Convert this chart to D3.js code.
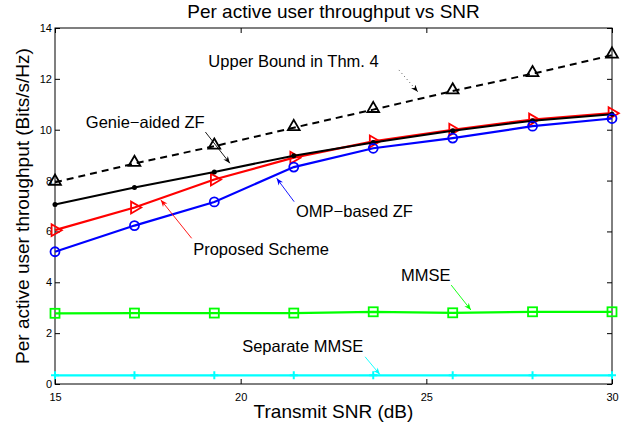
<!DOCTYPE html>
<html>
<head>
<meta charset="utf-8">
<script src="https://cdn.jsdelivr.net/npm/d3@7"></script>
<style>
  body { margin: 0; background: #fff; }
  svg text { font-family: "Liberation Sans", Arial, sans-serif; }
</style>
</head>
<body>
<div id="chart-container"></div>
<script>
// SNR points (dB)
const snr = [15, 17.14, 19.29, 21.43, 23.57, 25.71, 27.86, 30];

const upperBound  = [7.93, 8.67, 9.35, 10.08, 10.79, 11.52, 12.2, 12.93];
const genieZF     = [7.06, 7.73, 8.34, 8.98, 9.5, 9.96, 10.35, 10.61];
const proposed    = [6.05, 6.94, 8.04, 8.9, 9.54, 10.0, 10.4, 10.65];
const ompZF       = [5.2, 6.23, 7.16, 8.53, 9.27, 9.67, 10.14, 10.44];
const mmse        = [2.78, 2.79, 2.79, 2.79, 2.84, 2.8, 2.84, 2.84];
const sepMmse     = [0.34, 0.34, 0.34, 0.34, 0.34, 0.34, 0.34, 0.34];

const xTicks = [15, 20, 25, 30];
const yTicks = [0, 2, 4, 6, 8, 10, 12, 14];

const W = 636, H = 426;
const margin = { top: 28, right: 24, bottom: 42, left: 55 };
const width = W - margin.left - margin.right;
const height = H - margin.top - margin.bottom;

const svg = d3.select("#chart-container")
  .append("svg")
    .attr("width", W)
    .attr("height", H);

const g = svg.append("g")
  .attr("transform", `translate(${margin.left},${margin.top})`);

const x = d3.scaleLinear().domain([15, 30]).range([0, width]);
const y = d3.scaleLinear().domain([0, 14]).range([height, 0]);

// arrow heads
const defs = svg.append("defs");
function makeHead(id, color) {
  defs.append("marker")
    .attr("id", id)
    .attr("viewBox", "0 0 10 10")
    .attr("refX", 10).attr("refY", 5)
    .attr("markerWidth", 7).attr("markerHeight", 7)
    .attr("markerUnits", "userSpaceOnUse")
    .attr("orient", "auto")
    .append("path")
    .attr("d", "M0,1 L10,5 L0,9 L3,5 Z")
    .attr("fill", color);
}
makeHead("hBlack", "#000");
makeHead("hRed", "#ff0000");
makeHead("hBlue", "#0000ff");
makeHead("hGreen", "#00ff00");
makeHead("hCyan", "#00ffff");

// box + inward ticks
g.append("rect")
  .attr("width", width).attr("height", height)
  .attr("fill", "none").attr("stroke", "#000").attr("stroke-width", 1);

const bottomAxis = g.append("g")
  .attr("transform", `translate(0,${height})`)
  .call(d3.axisBottom(x).tickValues(xTicks).tickSize(-5).tickPadding(9).tickFormat(d3.format("d")));
const topAxis = g.append("g")
  .call(d3.axisTop(x).tickValues(xTicks).tickSize(-5).tickFormat(""));
const leftAxis = g.append("g")
  .call(d3.axisLeft(y).tickValues(yTicks).tickSize(-5).tickPadding(3).tickFormat(d3.format("d")));
const rightAxis = g.append("g")
  .attr("transform", `translate(${width},0)`)
  .call(d3.axisRight(y).tickValues(yTicks).tickSize(-5).tickFormat(""));

[bottomAxis, topAxis, leftAxis, rightAxis].forEach(a => {
  a.select(".domain").remove();
  a.selectAll(".tick line").attr("stroke", "#000");
  a.selectAll(".tick text")
    .style("font-size", "11px")
    .style("font-family", "Liberation Sans, Arial, sans-serif")
    .attr("fill", "#000");
});

const line = d3.line()
  .x((d, i) => x(snr[i]))
  .y(d => y(d));

// Upper bound (dashed, triangles)
g.append("path").datum(upperBound)
  .attr("fill", "none").attr("stroke", "#000")
  .attr("stroke-width", 2).attr("stroke-dasharray", "7,5")
  .attr("d", line);
const tri = d3.symbol().type(d3.symbolTriangle).size(60);
g.selectAll(".ub").data(upperBound).join("path")
  .attr("transform", (d, i) => `translate(${x(snr[i])},${y(d) - 1})`)
  .attr("d", tri)
  .attr("fill", "none").attr("stroke", "#000").attr("stroke-width", 1.8);

// Proposed scheme (red, right-pointing triangles)
g.append("path").datum(proposed)
  .attr("fill", "none").attr("stroke", "#ff0000").attr("stroke-width", 2.2)
  .attr("d", line);
g.selectAll(".pr").data(proposed).join("path")
  .attr("transform", (d, i) => `translate(${x(snr[i])},${y(d)}) rotate(90)`)
  .attr("d", tri)
  .attr("fill", "none").attr("stroke", "#ff0000").attr("stroke-width", 1.8);

// Genie-aided ZF (black, dots)
g.append("path").datum(genieZF)
  .attr("fill", "none").attr("stroke", "#000").attr("stroke-width", 2)
  .attr("d", line);
g.selectAll(".gz").data(genieZF).join("circle")
  .attr("cx", (d, i) => x(snr[i])).attr("cy", d => y(d))
  .attr("r", 2.5).attr("fill", "#000");

// OMP-based ZF (blue, circles)
g.append("path").datum(ompZF)
  .attr("fill", "none").attr("stroke", "#0000ff").attr("stroke-width", 2.2)
  .attr("d", line);
g.selectAll(".om").data(ompZF).join("circle")
  .attr("cx", (d, i) => x(snr[i])).attr("cy", d => y(d))
  .attr("r", 4.5).attr("fill", "none").attr("stroke", "#0000ff").attr("stroke-width", 1.8);

// MMSE (green, squares)
g.append("path").datum(mmse)
  .attr("fill", "none").attr("stroke", "#00ff00").attr("stroke-width", 2.2)
  .attr("d", line);
g.selectAll(".mm").data(mmse).join("rect")
  .attr("x", (d, i) => x(snr[i]) - 4.5).attr("y", d => y(d) - 4.5)
  .attr("width", 9).attr("height", 9)
  .attr("fill", "none").attr("stroke", "#00ff00").attr("stroke-width", 1.8);

// Separate MMSE (cyan, plus)
g.append("path").datum(sepMmse)
  .attr("fill", "none").attr("stroke", "#00ffff").attr("stroke-width", 2.4)
  .attr("d", line);
g.selectAll(".sm").data(sepMmse).join("path")
  .attr("transform", (d, i) => `translate(${x(snr[i])},${y(d)})`)
  .attr("d", "M-4,0 L4,0 M0,-4 L0,4")
  .attr("stroke", "#00ffff").attr("stroke-width", 2);

// annotations: text position and arrow start/end in data units
function annotate(label, tx, ty, from, to, color, head, dash) {
  g.append("text")
    .attr("x", x(tx)).attr("y", y(ty))
    .style("font-size", "16.5px")
    .attr("fill", "#000")
    .text(label);
  g.append("line")
    .attr("x1", x(from[0])).attr("y1", y(from[1]))
    .attr("x2", x(to[0])).attr("y2", y(to[1]))
    .attr("stroke", color).attr("stroke-width", dash ? 1 : 0.9)
    .attr("stroke-dasharray", dash || null)
    .attr("marker-end", `url(#${head})`);
}
annotate("Upper Bound in Thm. 4", 19.13, 12.45, [24.26, 12.35], [24.77, 11.49], "#555", "hBlack", "1,3");
annotate("Genie\u2212aided ZF", 15.83, 10.07, [19.05, 9.91], [19.71, 8.68], "#000", "hBlack");
annotate("Proposed Scheme", 18.72, 5.09, [18.68, 5.73], [17.85, 7.24], "#ff0000", "hRed");
annotate("OMP\u2212based ZF", 21.49, 6.55, [21.44, 7.17], [20.97, 8.09], "#0000ff", "hBlue");
annotate("MMSE", 24.32, 4.05, [25.67, 3.89], [26.2, 2.91], "#00ff00", "hGreen");
annotate("Separate MMSE", 20.04, 1.24, [23.35, 1.07], [23.75, 0.37], "#00ffff", "hCyan");

// title and axis labels
svg.append("text")
  .attr("x", margin.left + width / 2).attr("y", 18)
  .attr("text-anchor", "middle")
  .style("font-size", "19px")
  .text("Per active user throughput vs SNR");

svg.append("text")
  .attr("x", margin.left + width / 2).attr("y", 418)
  .attr("text-anchor", "middle")
  .style("font-size", "19px")
  .text("Transmit SNR (dB)");

svg.append("text")
  .attr("transform", `translate(28.5,${margin.top + height / 2}) rotate(-90)`)
  .attr("text-anchor", "middle")
  .style("font-size", "19px")
  .text("Per active user throughput (Bits/s/Hz)");
</script>
</body>
</html>
